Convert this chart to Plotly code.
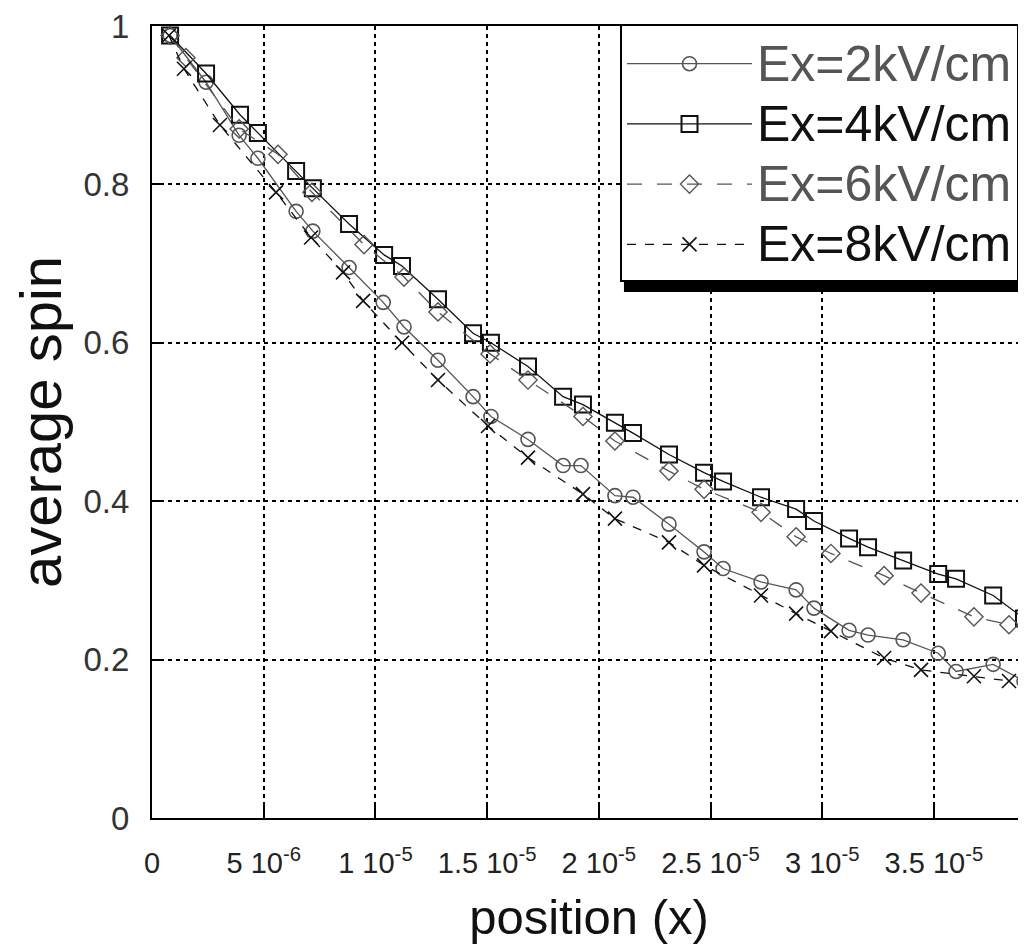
import plotly.graph_objects as go

# ---- data (x in metres, y = average spin) ----
x_e2 = [0.81e-6, 2.42e-6, 3.90e-6, 4.74e-6, 6.45e-6, 7.20e-6, 8.82e-6, 10.35e-6, 11.28e-6, 12.80e-6,
        14.37e-6, 15.17e-6, 16.83e-6, 18.40e-6, 19.20e-6, 20.72e-6, 21.53e-6, 23.14e-6, 24.71e-6, 25.56e-6,
        27.26e-6, 28.83e-6, 29.63e-6, 31.20e-6, 32.05e-6, 33.62e-6, 35.19e-6, 35.99e-6, 37.65e-6, 39.03e-6]
y_e2 = [0.988, 0.929, 0.862, 0.833, 0.766, 0.741, 0.695, 0.651, 0.620, 0.578,
        0.532, 0.507, 0.478, 0.445, 0.445, 0.407, 0.405, 0.371, 0.336, 0.315,
        0.298, 0.288, 0.265, 0.237, 0.231, 0.225, 0.208, 0.185, 0.194, 0.173]

x_e4 = [0.81e-6, 2.42e-6, 3.94e-6, 4.74e-6, 6.45e-6, 7.20e-6, 8.82e-6, 10.39e-6, 11.19e-6, 12.80e-6,
        14.37e-6, 15.17e-6, 16.83e-6, 18.40e-6, 19.29e-6, 20.72e-6, 21.53e-6, 23.14e-6, 24.71e-6, 25.56e-6,
        27.26e-6, 28.83e-6, 29.63e-6, 31.20e-6, 32.05e-6, 33.62e-6, 35.19e-6, 35.99e-6, 37.65e-6, 39.03e-6]
y_e4 = [0.988, 0.940, 0.888, 0.865, 0.817, 0.795, 0.750, 0.711, 0.697, 0.655,
        0.612, 0.600, 0.570, 0.532, 0.522, 0.499, 0.486, 0.459, 0.436, 0.425,
        0.405, 0.390, 0.375, 0.353, 0.342, 0.325, 0.308, 0.302, 0.281, 0.252]

x_e6 = [0.81e-6, 1.52e-6, 3.90e-6, 5.64e-6, 7.16e-6, 9.49e-6, 11.28e-6, 12.80e-6, 15.13e-6, 16.83e-6,
        19.29e-6, 20.72e-6, 23.14e-6, 24.71e-6, 27.26e-6, 28.83e-6, 30.39e-6, 32.77e-6, 34.42e-6, 36.79e-6,
        38.36e-6]
y_e6 = [0.988, 0.960, 0.870, 0.838, 0.790, 0.724, 0.683, 0.639, 0.586, 0.553,
        0.507, 0.476, 0.438, 0.415, 0.386, 0.355, 0.334, 0.306, 0.284, 0.254,
        0.244]

x_e8 = [0.76e-6, 1.43e-6, 3.04e-6, 5.55e-6, 7.12e-6, 8.55e-6, 9.45e-6, 11.19e-6, 12.80e-6, 15.04e-6,
        16.83e-6, 19.29e-6, 20.72e-6, 23.14e-6, 24.71e-6, 27.26e-6, 28.83e-6, 30.39e-6, 32.77e-6, 34.42e-6,
        36.79e-6, 38.36e-6]
y_e8 = [0.988, 0.946, 0.875, 0.790, 0.733, 0.689, 0.653, 0.600, 0.553, 0.495,
        0.455, 0.409, 0.378, 0.348, 0.319, 0.281, 0.258, 0.236, 0.202, 0.187,
        0.179, 0.173]

names = ["Ex=2kV/cm", "Ex=4kV/cm", "Ex=6kV/cm", "Ex=8kV/cm"]

x_tickvals = [0, 5e-6, 1e-5, 1.5e-5, 2e-5, 2.5e-5, 3e-5, 3.5e-5]
x_ticktext = ["0", "5 10<sup>-6</sup>", "1 10<sup>-5</sup>", "1.5 10<sup>-5</sup>", "2 10<sup>-5</sup>",
              "2.5 10<sup>-5</sup>", "3 10<sup>-5</sup>", "3.5 10<sup>-5</sup>"]
y_tickvals = [0, 0.2, 0.4, 0.6, 0.8, 1]
y_ticktext = ["0", "0.2", "0.4", "0.6", "0.8", "1"]

FONT = "Liberation Sans, Arial, sans-serif"
NARROW = "Liberation Sans Narrow, Arial Narrow, Liberation Sans, Arial, sans-serif"


def legend_name(txt, color):
    return "<span style='font-size:50px;color:%s'>%s</span>" % (color, txt)


fig = go.Figure()
fig.add_trace(go.Scatter(
    x=x_e2, y=y_e2, mode="lines+markers",
    name=legend_name(names[0], "#555555"),
    line=dict(color="#555555", width=1.3, dash="solid"),
    marker=dict(symbol="circle-open", size=14, color="#555555", line=dict(width=1.6, color="#555555"))))
fig.add_trace(go.Scatter(
    x=x_e4, y=y_e4, mode="lines+markers",
    name=legend_name(names[1], "#111111"),
    line=dict(color="#111111", width=1.3, dash="solid"),
    marker=dict(symbol="square-open", size=16, color="#111111", line=dict(width=2, color="#111111"))))
fig.add_trace(go.Scatter(
    x=x_e6, y=y_e6, mode="lines+markers",
    name=legend_name(names[2], "#555555"),
    line=dict(color="#555555", width=1.3, dash="longdash"),
    marker=dict(symbol="diamond-open", size=14, color="#555555", line=dict(width=1.4, color="#555555"))))
fig.add_trace(go.Scatter(
    x=x_e8, y=y_e8, mode="lines+markers",
    name=legend_name(names[3], "#111111"),
    line=dict(color="#111111", width=1.3, dash="dash"),
    marker=dict(symbol="x-thin", size=14, color="#111111", line=dict(width=1.6, color="#111111"))))

# legend drop shadow
fig.add_shape(type="rect", xref="paper", yref="paper",
              x0=0.540, x1=1.006, y0=0.664, y1=0.990,
              fillcolor="black", line=dict(width=0), layer="above")

fig.update_layout(
    width=1018, height=941,
    margin=dict(l=144, r=0, t=12, b=131),
    paper_bgcolor="white", plot_bgcolor="white",
    font=dict(family=FONT, color="#222222"),
    showlegend=True,
    legend=dict(
        x=0.992, y=1.0025, xanchor="right", yanchor="top",
        bgcolor="white", bordercolor="black", borderwidth=2,
        font=dict(size=44, family=FONT, color="#111111"),
        title=dict(text=" ", font=dict(size=2)),
        itemsizing="trace", tracegroupgap=0, itemwidth=125,
    ),
    xaxis=dict(
        range=[0, 3.912e-5], tickmode="array", tickvals=x_tickvals, ticktext=x_ticktext,
        showline=True, linecolor="black", linewidth=2, mirror=True,
        ticks="inside", ticklen=12, tickwidth=1.5, tickcolor="black",
        showgrid=True, gridcolor="black", gridwidth=2, griddash="4px,4px",
        zeroline=False,
        tickfont=dict(size=29, family=NARROW, color="#222222"),
        ticklabelstandoff=18, ticklabeloverflow="allow",
        title=dict(text="position (x)", font=dict(size=49, family=FONT, color="#111111"), standoff=22),
    ),
    yaxis=dict(
        range=[0, 1], tickmode="array", tickvals=y_tickvals, ticktext=y_ticktext,
        showline=True, linecolor="black", linewidth=2, mirror=False,
        ticks="inside", ticklen=8, tickwidth=1.5, tickcolor="black",
        showgrid=True, gridcolor="black", gridwidth=2, griddash="4px,4px",
        zeroline=False,
        tickfont=dict(size=33, family=NARROW, color="#333333"),
        ticklabelstandoff=14, ticklabeloverflow="allow",
        title=dict(text="average spin", font=dict(size=58, family=FONT, color="#111111"), standoff=14),
    ),
)

fig.write_html("out.html")
